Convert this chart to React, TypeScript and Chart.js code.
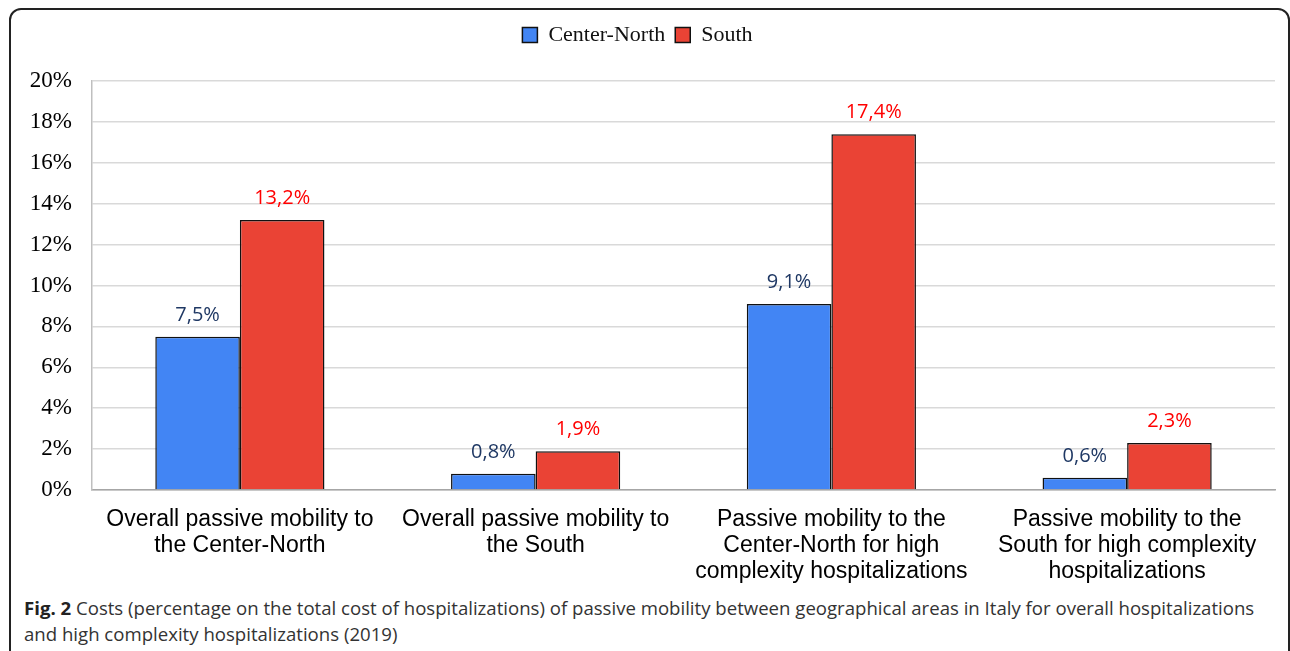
import React, { useEffect, useRef } from "react";
import { Chart, registerables } from "chart.js";

Chart.register(...registerables);

const categories: string[][] = [
  ["Overall passive mobility to", "the Center-North"],
  ["Overall passive mobility to", "the South"],
  ["Passive mobility to the", "Center-North for high", "complexity hospitalizations"],
  ["Passive mobility to the", "South for high complexity", "hospitalizations"],
];
const seriesNames = ["Center-North", "South"];
const centerNorth = [7.5, 0.8, 9.1, 0.6];
const south = [13.2, 1.9, 17.4, 2.3];
const yTicks = [0, 2, 4, 6, 8, 10, 12, 14, 16, 18, 20];

const BLUE = "#4285F4";
const RED = "#EA4335";
const LABEL_COLORS = ["#1F3864", "#FF0000"];

const legendMargin = {
  id: "legendMargin",
  beforeInit(chart: any) {
    const legend = chart.legend;
    if (!legend) return;
    const origFit = legend.fit;
    legend.fit = function () {
      origFit.call(this);
      this.height += 25;
    };
  },
};

const valueLabels = {
  id: "valueLabels",
  afterDatasetsDraw(chart: any) {
    const ctx = chart.ctx;
    ctx.save();
    ctx.font = '20px "Open Sans"';
    ctx.textAlign = "center";
    ctx.textBaseline = "alphabetic";
    chart.data.datasets.forEach((ds: any, di: number) => {
      const meta = chart.getDatasetMeta(di);
      ctx.fillStyle = LABEL_COLORS[di];
      meta.data.forEach((bar: any, i: number) => {
        const v = ds.data[i];
        const txt = v.toFixed(1).replace(".", ",") + "%";
        ctx.fillText(txt, bar.x, bar.y - 16);
      });
    });
    ctx.restore();
  },
};

export default function App() {
  const canvasRef = useRef<HTMLCanvasElement | null>(null);

  useEffect(() => {
    if (!canvasRef.current) return;
    const chart = new Chart(canvasRef.current, {
      type: "bar",
      data: {
        labels: categories,
        datasets: [
          {
            label: seriesNames[0],
            data: centerNorth,
            backgroundColor: BLUE,
            borderColor: "#111111",
            borderWidth: 1.5,
            barPercentage: 1,
            categoryPercentage: 0.572,
          },
          {
            label: seriesNames[1],
            data: south,
            backgroundColor: RED,
            borderColor: "#111111",
            borderWidth: 1.5,
            barPercentage: 1,
            categoryPercentage: 0.572,
          },
        ],
      },
      options: {
        responsive: true,
        maintainAspectRatio: false,
        animation: false,
        layout: { padding: { top: 14, left: 0, right: 15, bottom: 0 } },
        plugins: {
          legend: {
            display: true,
            position: "top",
            labels: {
              font: { family: '"Liberation Serif", "Times New Roman", serif', size: 22 },
              color: "#111111",
              boxWidth: 15,
              boxHeight: 15,
              padding: 10,
            },
          },
          tooltip: { enabled: false },
          title: { display: false },
        },
        scales: {
          x: {
            grid: { display: false, drawTicks: false },
            border: { display: true, color: "#A6A6A6", width: 1.5 },
            ticks: {
              font: { family: '"Liberation Sans", Arial, sans-serif', size: 23, lineHeight: 1.15 },
              color: "#000000",
              padding: 16,
              maxRotation: 0,
              autoSkip: false,
            },
            afterFit(scale: any) {
              scale.height = 105;
            },
          },
          y: {
            min: 0,
            max: 20,
            afterBuildTicks(scale: any) {
              scale.ticks = yTicks.map((v) => ({ value: v }));
            },
            grid: { color: "#D9D9D9", lineWidth: 1.5, drawTicks: false },
            border: { display: true, color: "#BFBFBF", width: 1.5 },
            ticks: {
              font: { family: '"Liberation Serif", "Times New Roman", serif', size: 23 },
              color: "#000000",
              padding: 20,
              callback: (v: any) => v + "%",
            },
            afterFit(scale: any) {
              scale.width = 92;
            },
          },
        },
      },
      plugins: [legendMargin, valueLabels],
    });
    return () => chart.destroy();
  }, []);

  return (
    <div
      style={{
        position: "fixed",
        left: 0,
        top: 0,
        width: 1290,
        height: 651,
        background: "#ffffff",
        overflow: "hidden",
      }}
    >
      <div
        style={{
          position: "absolute",
          left: 9,
          top: 8,
          width: 1281,
          height: 700,
          boxSizing: "border-box",
          border: "2px solid #222222",
          borderRadius: 12,
        }}
      />
      <div style={{ position: "absolute", left: 0, top: 0, width: 1290, height: 595 }}>
        <canvas ref={canvasRef} />
      </div>
      <div
        style={{
          position: "absolute",
          left: 24,
          top: 595,
          width: 1262,
          fontFamily: '"Open Sans", sans-serif',
          fontSize: 18.6,
          lineHeight: "26px",
          color: "#333333",
          whiteSpace: "nowrap",
        }}
      >
        <span style={{ fontWeight: 700, color: "#222222" }}>Fig. 2</span> Costs (percentage on the total cost of
        hospitalizations) of passive mobility between geographical areas in Italy for overall hospitalizations
        <br />
        and high complexity hospitalizations (2019)
      </div>
    </div>
  );
}
